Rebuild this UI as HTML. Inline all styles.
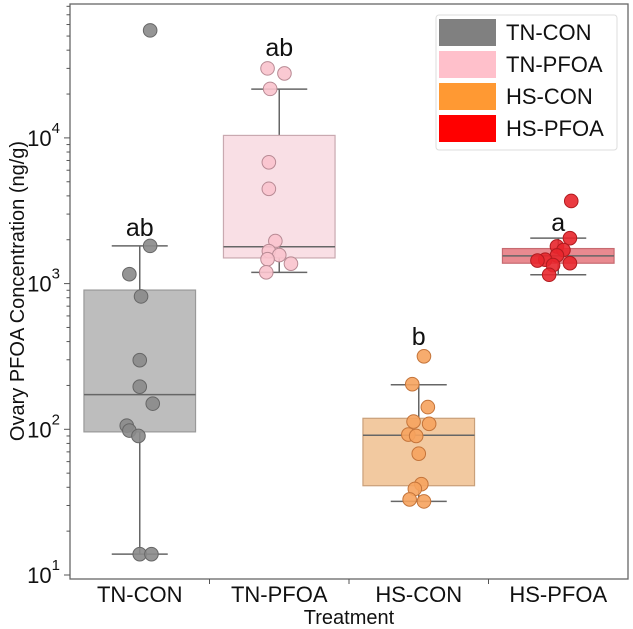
<!DOCTYPE html>
<html><head><meta charset="utf-8">
<style>
html,body{margin:0;padding:0;background:#fff;}
svg{display:block;font-family:"Liberation Sans",Arial,sans-serif;}
</style></head>
<body>
<svg id="chart" width="633" height="629" viewBox="0 0 633 629" xmlns="http://www.w3.org/2000/svg"></svg>
<script>
const categories = ["TN-CON","TN-PFOA","HS-CON","HS-PFOA"];
const letters = ["ab","ab","b","a"];
const boxQ1 = [96, 1500, 41, 1380];
const boxMedian = [173, 1790, 91, 1550];
const boxQ3 = [903, 10400, 119, 1740];
const whiskerLow = [13.9, 1195, 32, 1150];
const whiskerHigh = [1815, 21600, 202, 2050];
const pointsTNCON = [54700, 1815, 1160, 817, 298, 196, 150, 106, 98, 90, 13.9, 13.9];
const pointsTNPFOA = [30000, 27700, 21700, 6800, 4470, 1960, 1670, 1570, 1470, 1370, 1195];
const pointsHSCON = [317, 204, 142, 113, 109, 92, 90, 68, 42, 39, 33, 32];
const pointsHSPFOA = [3690, 2050, 1800, 1700, 1560, 1460, 1380, 1440, 1340, 1150];
const jitterTNCON = [0.8, 0.8, -0.8, 0.1, 0, 0, 1, -1, -0.8, -0.1, 0, 0.9];
const jitterTNPFOA = [-0.9, 0.4, -0.7, -0.8, -0.8, -0.3, -0.8, 0, -0.9, 0.9, -1];
const jitterHSCON = [0.4, -0.5, 0.7, -0.4, 0.8, -0.8, -0.2, 0, 0.2, -0.3, -0.7, 0.4];
const jitterHSPFOA = [1, 0.9, -0.1, 0.4, -0.1, -1, 0.9, -1.6, -0.4, -0.7];
const allPoints = [pointsTNCON, pointsTNPFOA, pointsHSCON, pointsHSPFOA];
const allJitter = [jitterTNCON, jitterTNPFOA, jitterHSCON, jitterHSPFOA];
const yTicks = [1,2,3,4];

const L=70, R=628, T=4, B=579;
const decade=145.7, y10=575;
function yScale(v){ return y10 - (Math.log10(v)-1)*decade; }
const band=(R-L)/categories.length;
function xScale(i){ return L + band*(i+0.5); }

const boxFill=["#bdbdbd","#f9dfe5","#f2c9a0","#e98a90"];
const boxStroke=["#999","#c9a9b0","#c9a07a","#c76a70"];
const ptFill=["#8a8a8a","#f9c3cd","#f6a35e","#e8262c"];
const ptStroke=["#666","#b88a94","#c4743a","#b01a1e"];
const legendColors=["#808080","#ffc0cb","#ff9933","#ff0000"];

const svg=document.getElementById('chart');
const NS="http://www.w3.org/2000/svg";
function mk(tag,attrs,parent){const e=document.createElementNS(NS,tag);for(const k in attrs)e.setAttribute(k,attrs[k]);(parent||svg).appendChild(e);return e;}

const frame=mk('rect',{x:L,y:T,width:R-L,height:B-T,fill:'none',stroke:'#666','stroke-width':1.3});



for(let d=0; d<=4; d++){
  for(let m=1;m<10;m++){
    const v=Math.pow(10,d)*m;
    const y=yScale(v);
    if(y<T||y>B) continue;
    const major=(m===1);
    const t=mk('line',{x1:L-(major?6:3.5),x2:L,y1:y,y2:y,stroke:'#555','stroke-width':1});
    
    
  }
}
yTicks.forEach(p=>{
  const y=yScale(Math.pow(10,p));
  const tx=mk('text',{x:L-10,y:y+8,'text-anchor':'end','font-size':22,fill:'#111'});
  
  
  tx.textContent='10';
  const sup=mk('tspan',{dy:-13,'font-size':15},tx);
  sup.textContent=String(p);
});

categories.forEach((c,i)=>{
  const x=xScale(i);
  if(i>0){
    const t=mk('line',{x1:L+band*i,x2:L+band*i,y1:B,y2:B+5,stroke:'#555','stroke-width':1});
    
    
  }
  const lab=mk('text',{x:x,y:602,'text-anchor':'middle','font-size':22,fill:'#111'});
  
  
  lab.textContent=c;
});

const xt=mk('text',{x:349,y:624,'text-anchor':'middle','font-size':20,fill:'#111'});


xt.textContent='Treatment';
const yt=mk('text',{x:0,y:0,'text-anchor':'middle','font-size':20,fill:'#111',transform:'translate(24,291) rotate(-90)'});


yt.textContent='Ovary PFOA Concentration (ng/g)';

const bw=band*0.8;
categories.forEach((c,i)=>{
  const x=xScale(i);
  const g=mk('g',{});
  
  
  mk('line',{x1:x,x2:x,y1:yScale(boxQ3[i]),y2:yScale(whiskerHigh[i]),stroke:'#666','stroke-width':1.5},g);
  mk('line',{x1:x,x2:x,y1:yScale(boxQ1[i]),y2:yScale(whiskerLow[i]),stroke:'#666','stroke-width':1.5},g);
  mk('line',{x1:x-28,x2:x+28,y1:yScale(whiskerHigh[i]),y2:yScale(whiskerHigh[i]),stroke:'#666','stroke-width':1.5},g);
  mk('line',{x1:x-28,x2:x+28,y1:yScale(whiskerLow[i]),y2:yScale(whiskerLow[i]),stroke:'#666','stroke-width':1.5},g);
  mk('rect',{x:x-bw/2,y:yScale(boxQ3[i]),width:bw,height:yScale(boxQ1[i])-yScale(boxQ3[i]),fill:boxFill[i],stroke:boxStroke[i],'stroke-width':1.2},g);
  mk('line',{x1:x-bw/2,x2:x+bw/2,y1:yScale(boxMedian[i]),y2:yScale(boxMedian[i]),stroke:'#666','stroke-width':1.5},g);
});

allPoints.forEach((arr,i)=>{
  arr.forEach((v,j)=>{
    const c=mk('circle',{cx:xScale(i)+allJitter[i][j]*13,cy:yScale(v),r:6.8,fill:ptFill[i],stroke:ptStroke[i],'stroke-width':1,'fill-opacity':0.9});
    
    
  });
});

const letterY=[227,47,336,222];
letters.forEach((s,i)=>{
  const t=mk('text',{x:xScale(i),y:letterY[i]+9,'text-anchor':'middle','font-size':25,fill:'#111'});
  
  
  t.textContent=s;
});

const lg=mk('g',{});


mk('rect',{x:436,y:15,width:181,height:135,rx:3,fill:'#fff','fill-opacity':0.85,stroke:'#ddd','stroke-width':1},lg);
categories.forEach((c,i)=>{
  const e=mk('g',{},lg);
  
  
  mk('rect',{x:439,y:19+i*32,width:57,height:27,fill:legendColors[i]},e);
  const t=mk('text',{x:506,y:40+i*32,'font-size':22,fill:'#111'},e);
  t.textContent=c;
});
</script>
</body></html>
